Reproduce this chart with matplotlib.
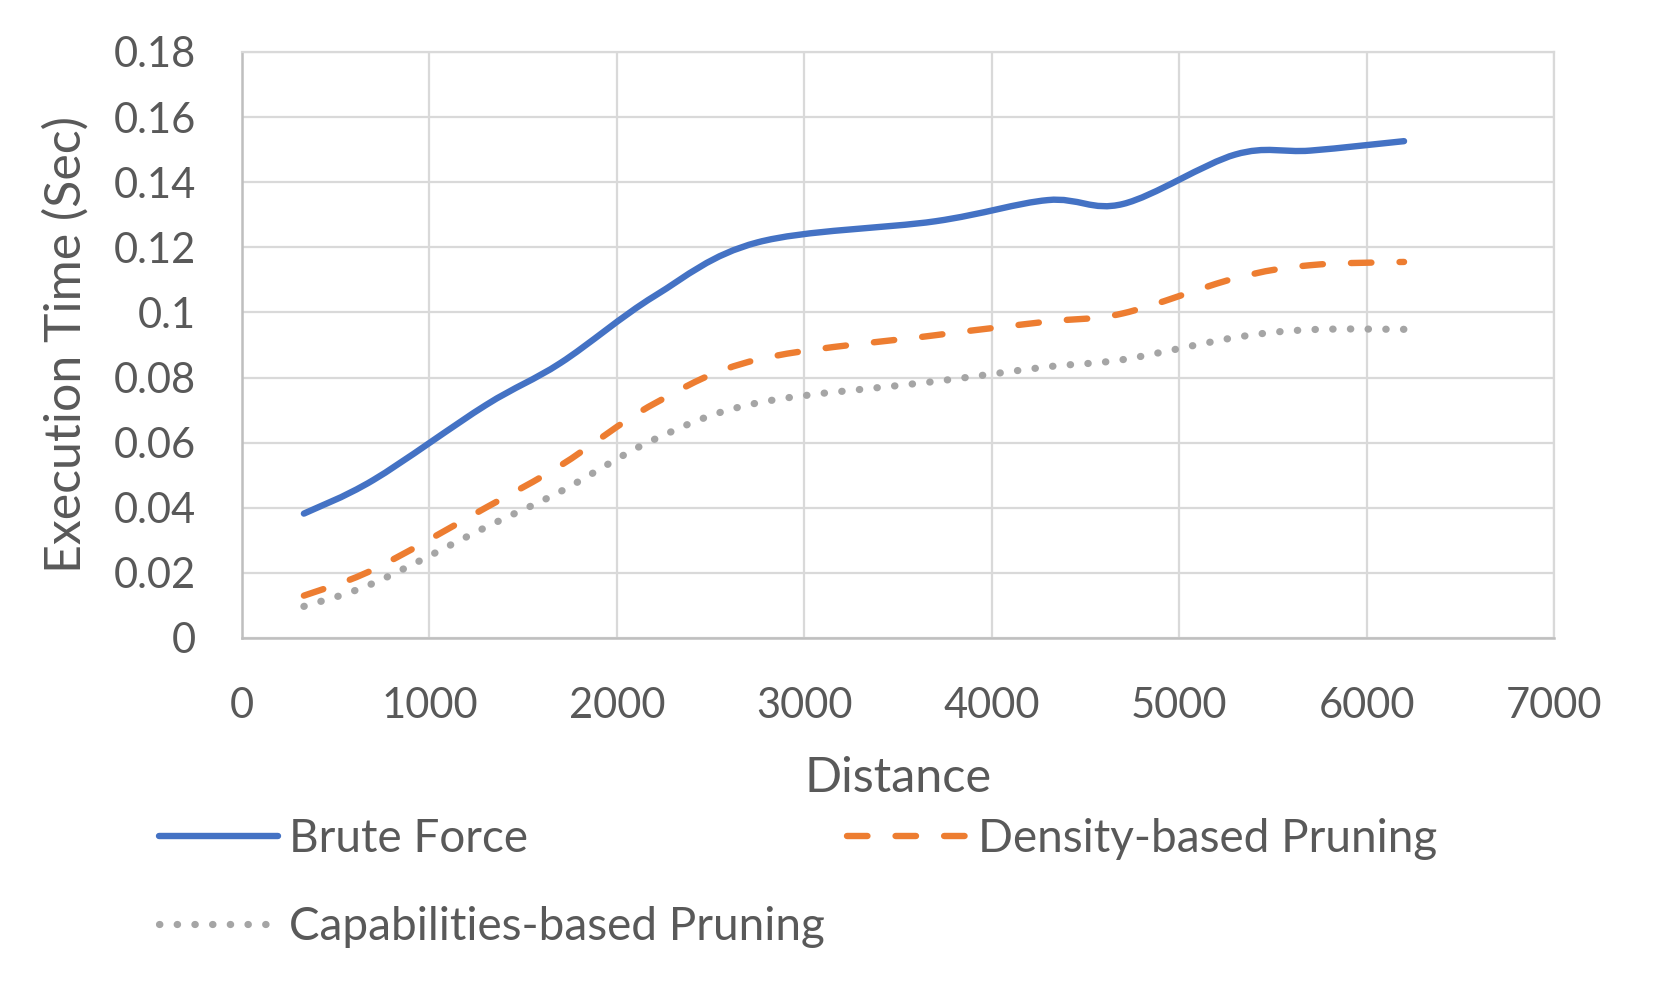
import matplotlib
matplotlib.use('Agg')
import matplotlib.pyplot as plt
from matplotlib.path import Path
from matplotlib.patches import PathPatch
import numpy as np

plt.rcParams['font.family'] = ['Lato', 'DejaVu Sans']

# 数据
distance = [330, 700, 1300, 1700, 2200, 2750, 3700, 4300, 4700, 5300, 5700, 6200]
brute_force = [0.0382, 0.0485, 0.0715, 0.0845, 0.1050, 0.1215, 0.1280, 0.1345,
               0.1333, 0.1485, 0.1497, 0.1526]
density_pruning = [0.0130, 0.0210, 0.0400, 0.0530, 0.0720, 0.0855, 0.0930, 0.0972,
                   0.0997, 0.1105, 0.1145, 0.1155]
capability_pruning = [0.0097, 0.0168, 0.0340, 0.0450, 0.0610, 0.0722, 0.0788, 0.0833,
                      0.0855, 0.0923, 0.0947, 0.0948]

series_names = ['Brute Force', 'Density-based Pruning', 'Capabilities-based Pruning']
x_ticks = [0, 1000, 2000, 3000, 4000, 5000, 6000, 7000]
y_ticks = [0, 0.02, 0.04, 0.06, 0.08, 0.1, 0.12, 0.14, 0.16, 0.18]

TEXT = '#595959'
GRID = '#D9D9D9'


def smooth_path(xs, ys):
    """Excel风格平滑曲线 (Catmull-Rom 转 Bezier)"""
    pts = np.column_stack([xs, ys]).astype(float)
    verts = [pts[0]]
    codes = [Path.MOVETO]
    n = len(pts)
    for i in range(n - 1):
        p0 = pts[i - 1] if i > 0 else pts[i]
        p1 = pts[i]
        p2 = pts[i + 1]
        p3 = pts[i + 2] if i + 2 < n else pts[i + 1]
        c1 = p1 + (p2 - p0) / 6.0
        c2 = p2 - (p3 - p1) / 6.0
        verts += [c1, c2, p2]
        codes += [Path.CURVE4] * 3
    return Path(verts, codes)


fig = plt.figure(figsize=(16.59, 9.99), dpi=100)
ax = fig.add_axes([0.1459, 0.3614, 0.7908, 0.5866])

styles = [
    dict(color='#4472C4', linestyle='-', lw=4.6),
    dict(color='#ED7D31', linestyle=(0, (3.2, 4.4)), lw=4.6),
    dict(color='#A5A5A5', linestyle=(0, (0.05, 2.4)), lw=5.2),
]

handles = []
for ys, st, name in zip([brute_force, density_pruning, capability_pruning], styles, series_names):
    patch = PathPatch(smooth_path(distance, ys), facecolor='none', edgecolor=st['color'],
                      linewidth=st['lw'], linestyle=st['linestyle'], capstyle='round',
                      joinstyle='round', zorder=3)
    ax.add_patch(patch)
    # 图例代理
    h, = ax.plot([], [], color=st['color'], linewidth=st['lw'], linestyle=st['linestyle'],
                 dash_capstyle='round', solid_capstyle='round', label=name)
    handles.append(h)

ax.set_xlim(0, 7000)
ax.set_ylim(0, 0.18)
ax.set_xticks(x_ticks)
ax.set_yticks(y_ticks)
ax.set_xticklabels([str(v) for v in x_ticks])
ax.set_yticklabels(['{:g}'.format(v) for v in y_ticks])
ax.tick_params(axis='both', length=0, labelsize=30, colors=TEXT)
ax.tick_params(axis='y', pad=33)
ax.tick_params(axis='x', pad=35)
ax.grid(True, color=GRID, linewidth=1.6, zorder=0)
ax.set_axisbelow(True)
for side in ['top', 'right']:
    ax.spines[side].set_color(GRID)
    ax.spines[side].set_linewidth(1.6)
for side in ['left', 'bottom']:
    ax.spines[side].set_color('#BFBFBF')
    ax.spines[side].set_linewidth(1.8)

ax.set_xlabel('Distance', fontsize=35, color=TEXT)
ax.set_ylabel('Execution Time (Sec)', fontsize=36, color=TEXT)
ax.xaxis.label.set_va('center')
ax.yaxis.label.set_va('center')
ax.xaxis.set_label_coords(0.5, -0.239)
ax.yaxis.set_label_coords(-0.134, 0.5)

# 按行排列: 第一行 Brute / Density, 第二行 Capabilities
order = [0, 2, 1]
leg = fig.legend([handles[i] for i in order], [series_names[i] for i in order],
                 loc='upper left', bbox_to_anchor=(0.0958, 0.181), ncol=2,
                 frameon=False, fontsize=33, handlelength=2.6, handletextpad=0.24,
                 columnspacing=0.49, labelspacing=0.99, borderaxespad=0, borderpad=0)
for t in leg.get_texts():
    t.set_color(TEXT)

fig.savefig('out.png', dpi=100, facecolor='white')
